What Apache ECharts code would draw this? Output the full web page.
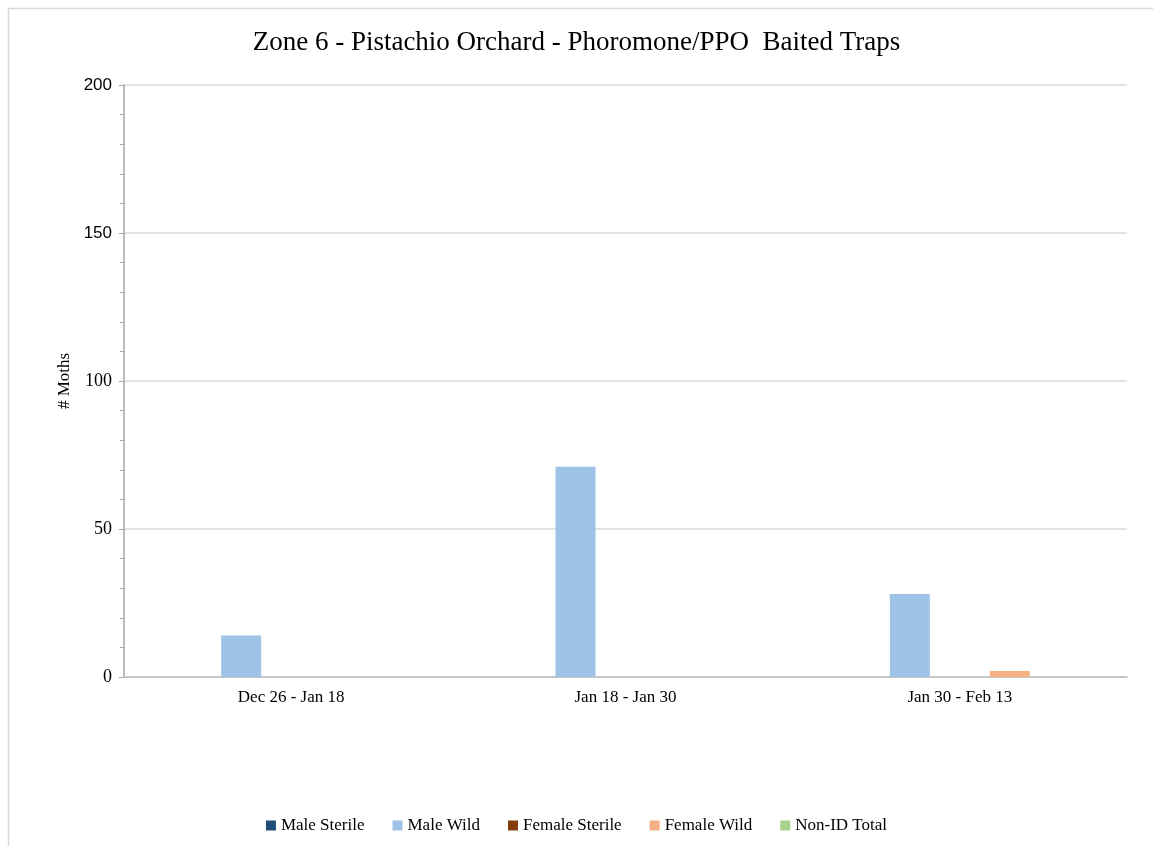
<!DOCTYPE html>
<html>
<head>
<meta charset="utf-8">
<script src="https://cdn.jsdelivr.net/npm/echarts@6/dist/echarts.min.js"></script>
<style>html,body{margin:0;padding:0;background:#fff}#c{width:1153px;height:846px}</style>
</head>
<body>
<div id="c"></div>
<script>
const categories = ['Dec 26 - Jan 18', 'Jan 18 - Jan 30', 'Jan 30 - Feb 13'];
const seriesNames = ['Male Sterile', 'Male Wild', 'Female Sterile', 'Female Wild', 'Non-ID Total'];
const maleSterile = [0, 0, 0];
const maleWild = [14, 71, 28];
const femaleSterile = [0, 0, 0];
const femaleWild = [0, 0, 2];
const nonIdTotal = [0, 0, 0];
const yTicks = [0, 50, 100, 150, 200];

const colors = ['#1F4E79', '#9DC3E6', '#843C0C', '#F4B183', '#A9D18E'];
const values = [maleSterile, maleWild, femaleSterile, femaleWild, nonIdTotal];
const serif = '"Liberation Serif", "Times New Roman", serif';

const chart = echarts.init(document.getElementById('c'));
chart.setOption({
  animation: false,
  color: colors,
  graphic: [{
    type: 'rect', left: 6, top: 6, shape: { width: 1200, height: 900 },
    style: { fill: 'none', stroke: '#d9d9d9', lineWidth: 1.5 }, silent: true, z: -1
  }],
  title: {
    text: 'Zone 6 - Pistachio Orchard - Phoromone/PPO  Baited Traps',
    left: 'center', top: 24,
    textStyle: { fontFamily: serif, fontSize: 27, fontWeight: 'normal', color: '#000' }
  },
  legend: {
    top: 812, left: 'center', itemWidth: 10, itemHeight: 10, itemGap: 28,
    icon: 'rect',
    textStyle: { fontFamily: serif, fontSize: 17, color: '#000' },
    data: seriesNames
  },
  grid: { left: 124, right: 26, top: 85, bottom: 169, containLabel: false },
  xAxis: {
    type: 'category', data: categories,
    axisLine: { lineStyle: { color: '#bfbfbf', width: 1.5 } },
    axisTick: { show: false },
    axisLabel: { fontFamily: serif, fontSize: 17, color: '#000', margin: 12 }
  },
  yAxis: {
    type: 'value', min: yTicks[0], max: yTicks[yTicks.length - 1], interval: 50,
    name: '# Moths', nameLocation: 'middle', nameGap: 50,
    nameTextStyle: { fontFamily: serif, fontSize: 17, color: '#000' },
    axisLine: { show: true, lineStyle: { color: '#a6a6a6', width: 1.5 } },
    axisTick: { show: true, length: 5, lineStyle: { color: '#a6a6a6' } },
    minorTick: { show: true, splitNumber: 5, length: 4, lineStyle: { color: '#a6a6a6' } },
    splitLine: { lineStyle: { color: '#d9d9d9', width: 1.5 } },
    axisLabel: {
      margin: 12,
      formatter: v => (v >= 150 ? '{s|' + v + '}' : '{t|' + v + '}'),
      rich: {
        s: { fontFamily: '"Liberation Sans", Arial, sans-serif', fontSize: 17, color: '#000' },
        t: { fontFamily: serif, fontSize: 18, color: '#000' }
      }
    }
  },
  series: seriesNames.map((n, i) => ({
    name: n, type: 'bar', data: values[i], barWidth: 40, barGap: '25%'
  }))
});
</script>
</body>
</html>
